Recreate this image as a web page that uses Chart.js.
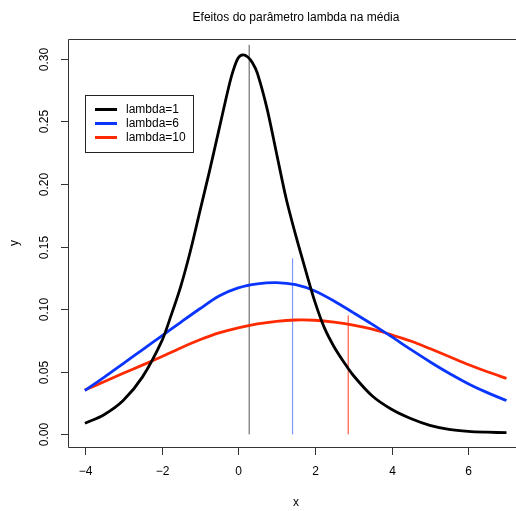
<!DOCTYPE html>
<html>
<head>
<meta charset="utf-8">
<script src="https://cdn.jsdelivr.net/npm/chart.js@4"></script>
<style>
    html, body { margin: 0; padding: 0; background: #fff; overflow: hidden; }
    canvas { display: block; }
</style>
</head>
<body>
<canvas id="chart" width="516" height="511"></canvas>
<script>
// valores
const xBlack = [-4, -3.5, -3, -2.5, -2, -1.75, -1.5, -1.25, -1, -0.75, -0.5, -0.25, -0.125, 0, 0.125, 0.25, 0.375, 0.5, 0.75, 1, 1.25, 1.5, 1.75, 2, 2.25, 2.5, 2.75, 3, 3.5, 4, 4.5, 5, 5.5, 6, 6.5, 7];
const yBlack = [0.0088, 0.0157, 0.027, 0.0457, 0.074, 0.095, 0.118, 0.146, 0.178, 0.21, 0.2435, 0.277, 0.291, 0.3006, 0.303, 0.3013, 0.2966, 0.2885, 0.2605, 0.2245, 0.1885, 0.159, 0.132, 0.106, 0.085, 0.07, 0.058, 0.0472, 0.0306, 0.02, 0.0126, 0.0072, 0.004, 0.0024, 0.0017, 0.0013];

const xGrid = [-4, -3.5, -3, -2.5, -2, -1.5, -1, -0.5, 0, 0.5, 1, 1.5, 2, 2.5, 3, 3.5, 4, 4.5, 5, 5.5, 6, 6.5, 7];
const yBlue = [0.035, 0.0455, 0.0565, 0.0675, 0.0785, 0.0895, 0.1003, 0.1105, 0.117, 0.1202, 0.1212, 0.1195, 0.1145, 0.1065, 0.0972, 0.0878, 0.078, 0.0678, 0.058, 0.0488, 0.0405, 0.0333, 0.027];
const yRed = [0.0354, 0.042, 0.0488, 0.0553, 0.062, 0.069, 0.0755, 0.081, 0.085, 0.0882, 0.0903, 0.0913, 0.0911, 0.0897, 0.0873, 0.084, 0.0795, 0.0745, 0.0685, 0.0622, 0.0558, 0.05, 0.0447];

// médias (linhas verticais): posição e altura
const meanX = [0.287, 1.42, 2.87];
const meanTop = [0.311, 0.1406, 0.095];

const seriesLabels = ["lambda=1", "lambda=6", "lambda=10"];
const xTicks = [-4, -2, 0, 2, 4, 6];
const yTicks = [0, 0.05, 0.1, 0.15, 0.2, 0.25, 0.3];

const colors = {
    black: "#000000",
    blue: "#0a35ff",
    red: "#ff2a00",
};
const meanColors = ["#555555", "#6d88ff", "#ff3b20"];
const FONT = "'Liberation Sans', Arial, Helvetica, sans-serif";

function toPoints(xs, ys) {
    return xs.map((x, i) => ({ x: x, y: ys[i] }));
}

const curveConfig = {
    borderWidth: 2.8,
    pointRadius: 0,
    fill: false,
    tension: 0.3,
};

const meanDatasets = meanX.map((mx, i) => ({
    data: [{ x: mx, y: 0 }, { x: mx, y: meanTop[i] }],
    borderColor: meanColors[i],
    borderWidth: 1,
    pointRadius: 0,
    fill: false,
}));

// eixos, caixa, título e legenda no estilo do R
const rStyle = {
    id: "rStyle",
    afterDraw(chart) {
        const ctx = chart.ctx;
        const a = chart.chartArea;
        const xs = chart.scales.x;
        const ys = chart.scales.y;
        ctx.save();
        ctx.strokeStyle = "#333";
        ctx.lineWidth = 1;
        ctx.beginPath();
        ctx.moveTo(a.right, a.top + 0.5);
        ctx.lineTo(a.left + 0.5, a.top + 0.5);
        ctx.lineTo(a.left + 0.5, a.bottom + 0.5);
        ctx.lineTo(a.right, a.bottom + 0.5);
        ctx.stroke();

        ctx.fillStyle = "#000";
        ctx.font = "12px " + FONT;
        ctx.textAlign = "center";
        ctx.textBaseline = "middle";
        xTicks.forEach((t) => {
            const px = Math.round(xs.getPixelForValue(t)) + 0.5;
            ctx.beginPath();
            ctx.moveTo(px, a.bottom);
            ctx.lineTo(px, a.bottom + 8);
            ctx.stroke();
            ctx.fillText(t < 0 ? "\u2212" + Math.abs(t) : String(t), px, 472);
        });
        yTicks.forEach((t) => {
            const py = Math.round(ys.getPixelForValue(t)) + 0.5;
            ctx.beginPath();
            ctx.moveTo(a.left, py);
            ctx.lineTo(a.left - 7, py);
            ctx.stroke();
            ctx.save();
            ctx.translate(45, py);
            ctx.rotate(-Math.PI / 2);
            ctx.fillText(t.toFixed(2), 0, 0);
            ctx.restore();
        });

        ctx.fillText("Efeitos do parâmetro lambda na média", 296, 18);
        ctx.fillText("x", 296, 503);
        ctx.save();
        ctx.translate(15, 243);
        ctx.rotate(-Math.PI / 2);
        ctx.fillText("y", 0, 0);
        ctx.restore();

        // legenda
        ctx.strokeStyle = "#222";
        ctx.strokeRect(85.5, 95.5, 108, 57);
        const legendColors = [colors.black, colors.blue, colors.red];
        const rows = [109.5, 123.5, 137.5];
        ctx.textAlign = "left";
        seriesLabels.forEach((label, i) => {
            ctx.strokeStyle = legendColors[i];
            ctx.lineWidth = 3;
            ctx.beginPath();
            ctx.moveTo(95, rows[i]);
            ctx.lineTo(117, rows[i]);
            ctx.stroke();
            ctx.fillText(label, 126, rows[i]);
        });
        ctx.restore();
    },
};

new Chart(document.getElementById("chart"), {
    type: "line",
    data: {
        datasets: [
            { label: seriesLabels[0], data: toPoints(xBlack, yBlack), borderColor: colors.black, ...curveConfig },
            { label: seriesLabels[1], data: toPoints(xGrid, yBlue), borderColor: colors.blue, ...curveConfig },
            { label: seriesLabels[2], data: toPoints(xGrid, yRed), borderColor: colors.red, ...curveConfig },
            ...meanDatasets,
        ],
    },
    options: {
        responsive: false,
        animation: false,
        devicePixelRatio: 1,
        layout: { padding: { left: 68, top: 39, right: 0, bottom: 64 } },
        plugins: { legend: { display: false }, title: { display: false }, tooltip: { enabled: false } },
        scales: {
            x: { type: "linear", min: -4.44, max: 7.248, display: false },
            y: { type: "linear", min: -0.0101, max: 0.3157, display: false },
        },
    },
    plugins: [rStyle],
});
</script>
</body>
</html>
